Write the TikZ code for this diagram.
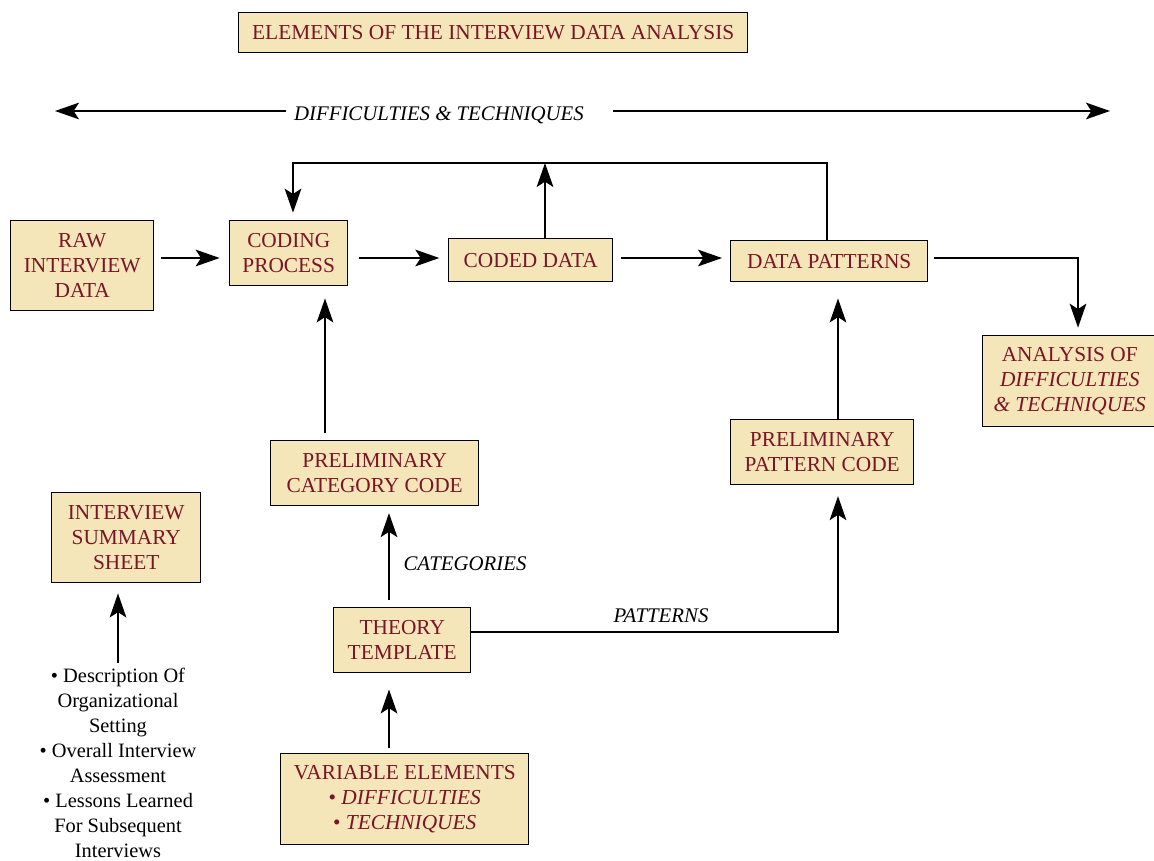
\documentclass[tikz,border=0pt]{standalone}
\usepackage{fontspec}
\setmainfont{Liberation Serif}
\newfontfamily\tms{Liberation Serif}
\usetikzlibrary{arrows.meta}
\definecolor{boxfill}{HTML}{F5E6B9}
\definecolor{boxtext}{HTML}{7B1426}
\begin{document}
\begin{tikzpicture}[x=0.75pt,y=-0.75pt,
  font=\tms\fontsize{16}{18.75}\selectfont,
  box/.style={draw=black, line width=1.1pt, fill=boxfill, text=boxtext,
    align=center, inner sep=0pt, anchor=north west},
  arr/.style={draw=black, line width=1.3pt, -{Stealth[length=18pt,width=12.5pt,inset=4pt]}},
  lbl/.style={font=\tms\fontsize{15.6}{18.75}\selectfont\itshape, text=black}]
\useasboundingbox (0,0) rectangle (1154,861);

% boxes
\node[box, minimum width=509*0.75pt, minimum height=40*0.75pt] (title) at (238,12)
  {ELEMENTS OF THE INTERVIEW DATA ANALYSIS};
\node[box, minimum width=143*0.75pt, minimum height=90*0.75pt] (raw) at (10,220)
  {RAW\\INTERVIEW\\DATA};
\node[box, minimum width=118*0.75pt, minimum height=65*0.75pt] (coding) at (229,220)
  {CODING\\PROCESS};
\node[box, minimum width=164*0.75pt, minimum height=43*0.75pt] (coded) at (448,238)
  {CODED DATA};
\node[box, minimum width=197*0.75pt, minimum height=41*0.75pt] (dp) at (730,240)
  {DATA PATTERNS};
\node[box, minimum width=174*0.75pt, minimum height=91*0.75pt] (anal) at (982,335)
  {ANALYSIS OF\\\textit{DIFFICULTIES}\\\textit{\& TECHNIQUES}};
\node[box, minimum width=208*0.75pt, minimum height=65*0.75pt] (pcc) at (270,440)
  {PRELIMINARY\\CATEGORY CODE};
\node[box, minimum width=183*0.75pt, minimum height=65*0.75pt] (ppc) at (730,419)
  {PRELIMINARY\\PATTERN CODE};
\node[box, minimum width=149*0.75pt, minimum height=90*0.75pt] (iss) at (51,492)
  {INTERVIEW\\SUMMARY\\SHEET};
\node[box, minimum width=137*0.75pt, minimum height=65*0.75pt] (theory) at (333,607)
  {THEORY\\TEMPLATE};
\node[box, minimum width=248*0.75pt, minimum height=91*0.75pt] (var) at (280,753)
  {VARIABLE ELEMENTS\\• \textit{DIFFICULTIES}\\• \textit{TECHNIQUES}};

% bullet list feeding the summary sheet
\node[align=center, text=black, inner sep=0pt, font=\tms\fontsize{15.3}{18.75}\selectfont] (bul) at (118,763)
  {• Description Of\\Organizational\\Setting\\• Overall Interview\\Assessment\\• Lessons Learned\\For Subsequent\\Interviews};

% top double arrow with its label
\node[lbl, inner sep=0pt] (dt) at (439,115) {DIFFICULTIES \& TECHNIQUES};
\coordinate (tl) at (55,111);
\coordinate (tr) at (1110,111);
\draw[arr, shorten <=6pt] (dt.west |- tl) -- (tl);
\draw[arr, shorten <=22pt] (dt.east |- tr) -- (tr);

% main row
\coordinate (row) at (0,258);
\draw[arr, shorten <=5pt, shorten >=7pt] (raw.east |- row) -- (coding.west |- row);
\draw[arr, shorten <=8pt, shorten >=6.5pt] (coding.east |- row) -- (coded.west |- row);
\draw[arr, shorten <=6pt, shorten >=6pt] (coded.east |- row) -- (dp.west |- row);

% feedback loop from data patterns to coding process
\coordinate (cup) at (545,163);
\coordinate (lr) at (827,163);
\coordinate (ll) at (293,163);
\draw[arr] (coded.north -| cup) -- (cup);
\draw[arr, shorten >=5.5pt] (dp.north -| lr) -- (lr) -- (ll) -- (coding.north -| ll);

% data patterns to analysis
\coordinate (ar) at (1078,258);
\draw[arr, shorten <=4.5pt, shorten >=5.5pt] (dp.east |- ar) -- (ar) -- (anal.north -| ar);

% category branch
\coordinate (cx) at (325,0);
\draw[arr, shorten <=5pt, shorten >=9pt] (pcc.north -| cx) -- (coding.south -| cx);
\coordinate (tx) at (389,0);
\draw[arr, shorten <=5pt, shorten >=5pt] (theory.north -| tx) -- (pcc.south -| tx);
\node[lbl, inner sep=0pt] (cat) at (465,564) {CATEGORIES};

% pattern branch
\coordinate (px) at (838,632);
\draw[arr, shorten >=8pt] (theory.east |- px) -- (px) -- (ppc.south -| px);
\node[lbl, inner sep=0pt] (pat) at (661,616) {PATTERNS};
\draw[arr, shorten >=12pt] (ppc.north -| px) -- (dp.south -| px);

% variable elements to theory template
\draw[arr, shorten <=4pt, shorten >=12pt] (var.north -| tx) -- (theory.south -| tx);

% bullet list to summary sheet
\coordinate (bx) at (118,0);
\draw[arr, shorten <=4pt, shorten >=7.5pt] (bul.north -| bx) -- (iss.south -| bx);
\end{tikzpicture}
\end{document}
